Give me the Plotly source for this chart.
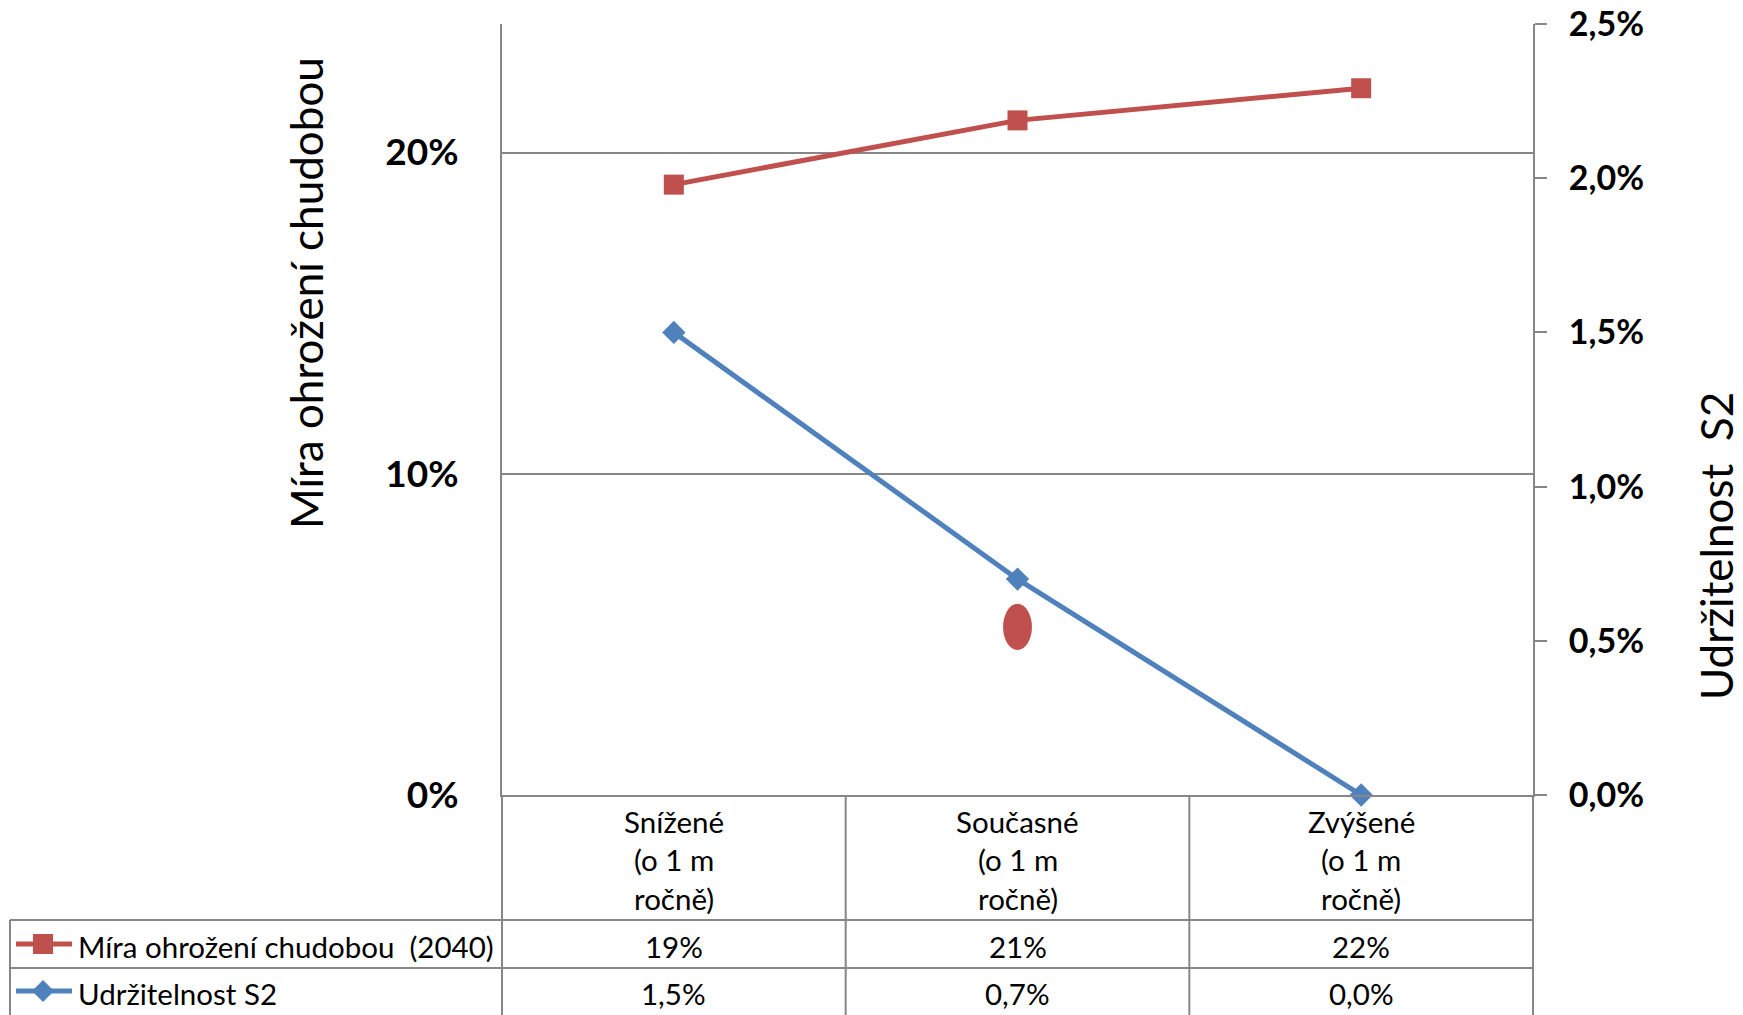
import plotly.graph_objects as go

# ---------------- data ----------------
categories = ["Snížené", "Současné", "Zvýšené"]
category_lines = [
    ["Snížené", "(o 1 m", "ročně)"],
    ["Současné", "(o 1 m", "ročně)"],
    ["Zvýšené", "(o 1 m", "ročně)"],
]
poverty_name = "Míra ohrožení chudobou  (2040)"
poverty = [0.19, 0.21, 0.22]
s2_name = "Udržitelnost S2"
s2 = [0.015, 0.007, 0.0]
left_title = "Míra ohrožení chudobou"
right_title = "Udržitelnost  S2"
left_ticks = [0.0, 0.1, 0.2]
right_ticks = [0.0, 0.005, 0.010, 0.015, 0.020, 0.025]
left_range = [0, 0.24]
right_range = [0, 0.025]
# hand-drawn red ellipse (category index, left-axis value)
highlight_cat = 1
highlight_val = 0.0523

# ---------------- styling ----------------
W, H = 1743, 1015
L, R, T, B = 502, 1533, 24, 795          # plot area in px
RED = "#C0504D"
BLUE = "#4F81BD"
GRID = "#878787"
FONT = "Lato, 'Open Sans', sans-serif"
xr = [-0.5, len(categories) - 0.5]


def px_x(x):
    return (x - L) / (R - L)


def px_y(y):
    return (B - y) / (B - T)


def cat_paper(v):
    return (v - xr[0]) / (xr[1] - xr[0])


fig = go.Figure()
fig.add_trace(go.Scatter(
    x=list(range(len(categories))), y=poverty, name=poverty_name,
    mode="lines+markers", line=dict(color=RED, width=5),
    marker=dict(symbol="square", size=20, color=RED), yaxis="y",
    cliponaxis=False,
))
fig.add_trace(go.Scatter(
    x=list(range(len(categories))), y=s2, name=s2_name,
    mode="lines+markers", line=dict(color=BLUE, width=5),
    marker=dict(symbol="diamond", size=18, color=BLUE), yaxis="y2",
    cliponaxis=False,
))

shapes = []
# ellipse
shapes.append(dict(type="circle", xref="x", yref="y",
                   x0=highlight_cat - 0.042, x1=highlight_cat + 0.042,
                   y0=highlight_val - 0.0072, y1=highlight_val + 0.0072,
                   fillcolor=RED, line=dict(width=0), layer="above"))

# data table grid
ln = dict(color=GRID, width=2)
y_bottom = px_y(1016)
y_row1 = px_y(920)
y_row2 = px_y(968)
for b in [i - 0.5 for i in range(len(categories) + 1)]:
    xp = cat_paper(b)
    shapes.append(dict(type="line", xref="paper", yref="paper",
                       x0=xp, x1=xp, y0=0, y1=y_bottom, line=ln))
for yy in (y_row1, y_row2):
    shapes.append(dict(type="line", xref="paper", yref="paper",
                       x0=px_x(10), x1=1, y0=yy, y1=yy, line=ln))
shapes.append(dict(type="line", xref="paper", yref="paper",
                   x0=px_x(10), x1=px_x(10), y0=y_row1, y1=y_bottom, line=ln))

# legend keys in the table
row_centers = [944, 991]
for rc, col, kind in zip(row_centers, [RED, BLUE], ["square", "diamond"]):
    yp = px_y(rc)
    shapes.append(dict(type="line", xref="paper", yref="paper",
                       x0=px_x(16), x1=px_x(72), y0=yp, y1=yp,
                       line=dict(color=col, width=5)))
    cx = 43
    if kind == "square":
        shapes.append(dict(type="rect", xref="paper", yref="paper",
                           x0=px_x(cx - 10), x1=px_x(cx + 10),
                           y0=px_y(rc + 10), y1=px_y(rc - 10),
                           fillcolor=col, line=dict(width=0)))
    else:
        r = 11
        path = "M {a},{b} L {c},{d} L {e},{f} L {g},{h} Z".format(
            a=px_x(cx - r), b=px_y(rc), c=px_x(cx), d=px_y(rc - r),
            e=px_x(cx + r), f=px_y(rc), g=px_x(cx), h=px_y(rc + r))
        shapes.append(dict(type="path", xref="paper", yref="paper",
                           path=path, fillcolor=col, line=dict(width=0)))

annotations = []
tfont = dict(family=FONT, size=29.5, color="black")
line_y = [821, 860, 898]
for i, lines in enumerate(category_lines):
    for txt, yy in zip(lines, line_y):
        annotations.append(dict(text=txt, x=i, xref="x", y=px_y(yy), yref="paper",
                                showarrow=False, xanchor="center", yanchor="middle",
                                font=tfont))
for i, v in enumerate(poverty):
    annotations.append(dict(text=f"{v * 100:.0f}%", x=i, xref="x", y=px_y(946),
                            yref="paper", showarrow=False, font=tfont,
                            xanchor="center", yanchor="middle"))
for i, v in enumerate(s2):
    annotations.append(dict(text=f"{v * 100:.1f}%".replace(".", ","), x=i, xref="x",
                            y=px_y(993), yref="paper", showarrow=False, font=tfont,
                            xanchor="center", yanchor="middle"))
for name, rc in zip([poverty_name, s2_name], [946, 993]):
    annotations.append(dict(text=name, x=px_x(76), xref="paper", y=px_y(rc),
                            yref="paper", showarrow=False, font=tfont,
                            xanchor="left", yanchor="middle"))

title_font = dict(family=FONT, size=44, color="black")
annotations.append(dict(text=left_title, x=px_x(306), xref="paper", y=px_y(293),
                        yref="paper", textangle=-90, showarrow=False,
                        xanchor="center", yanchor="middle", font=title_font))
annotations.append(dict(text=right_title, x=px_x(1716), xref="paper", y=px_y(546),
                        yref="paper", textangle=-90, showarrow=False,
                        xanchor="center", yanchor="middle", font=title_font))

left_tick_font = dict(family=FONT, size=37, color="black", weight="bold")
right_tick_font = dict(family=FONT, size=34, color="black", weight="bold")

fig.update_layout(
    width=W, height=H,
    margin=dict(l=L, r=W - R, t=T, b=H - B, pad=0, autoexpand=False),
    paper_bgcolor="white", plot_bgcolor="white",
    showlegend=False,
    separators=", ",
    font=dict(family=FONT, color="black"),
    xaxis=dict(range=xr, tickmode="array", tickvals=list(range(len(categories))),
               showticklabels=False, ticks="", showgrid=False, zeroline=False,
               showline=True, linecolor=GRID, linewidth=2, automargin=False),
    yaxis=dict(range=left_range, tickmode="array", tickvals=left_ticks,
               tickformat=".0%", tickfont=left_tick_font, showgrid=True,
               gridcolor=GRID, gridwidth=2, zeroline=False, showline=True,
               linecolor=GRID, linewidth=2, ticks="", ticklabelstandoff=34,
               automargin=False),
    yaxis2=dict(range=right_range, overlaying="y", side="right", tickmode="array",
                tickvals=right_ticks, tickformat=".1%", tickfont=right_tick_font,
                showgrid=False, zeroline=False, showline=True, linecolor=GRID,
                linewidth=2, ticks="outside", ticklen=12, tickwidth=2,
                tickcolor=GRID, ticklabelstandoff=15, automargin=False),
    shapes=shapes,
    annotations=annotations,
)

fig.write_html("out.html", config={"displayModeBar": False},
               post_script="document.body.style.margin='0';")
